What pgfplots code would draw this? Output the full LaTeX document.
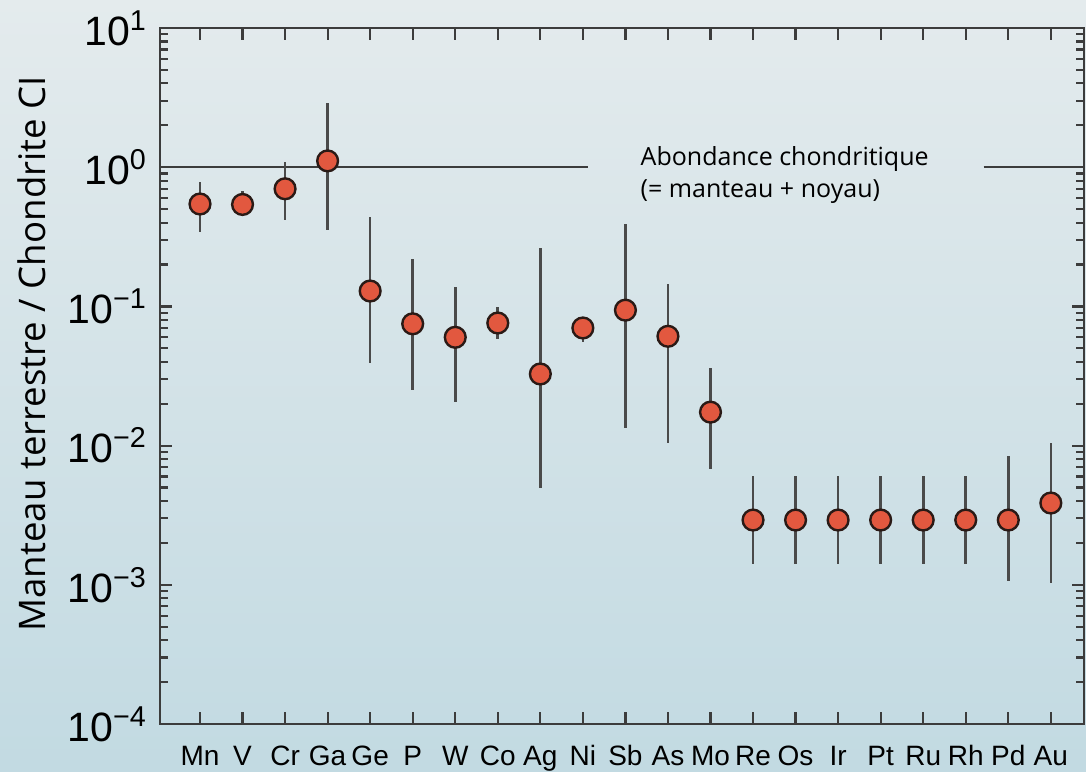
\documentclass[border=0pt]{standalone}
\usepackage{pgfplots}
\pgfplotsset{compat=1.18}
\usepackage{pgfplotstable}
\usepackage{fontspec}
\setmainfont{Liberation Sans}
\newfontfamily\labelfont{Open Sans}

\definecolor{bgtop}{HTML}{E4EBED}
\definecolor{bgmid}{HTML}{D0E2E8}
\definecolor{bgbot}{HTML}{C2DAE2}
\definecolor{axisgray}{HTML}{3C3C3C}
\definecolor{bargray}{HTML}{4A4A4A}
\definecolor{dotred}{HTML}{E2583F}
\definecolor{dotedge}{HTML}{2A1A16}

% element, value, lower and upper end of the error bar
\pgfplotstableread{
x y lo hi
0 0.544 0.34 0.78
1 0.54 0.45 0.68
2 0.70 0.42 1.09
3 1.11 0.354 2.89
4 0.129 0.039 0.44
5 0.075 0.025 0.219
6 0.060 0.0206 0.138
7 0.076 0.058 0.099
8 0.0327 0.0050 0.263
9 0.070 0.0555 0.084
10 0.094 0.0134 0.39
11 0.061 0.0104 0.145
12 0.0174 0.0068 0.036
13 0.00292 0.00141 0.00605
14 0.00292 0.00141 0.00605
15 0.00292 0.00141 0.00605
16 0.00292 0.00141 0.00605
17 0.00292 0.00141 0.00605
18 0.00292 0.00141 0.00605
19 0.00292 0.00107 0.0084
20 0.00387 0.00103 0.0104
}\abund

\begin{document}
\begin{tikzpicture}
  \shade[top color=bgtop, middle color=bgmid, bottom color=bgbot]
    (0,0) rectangle (543pt,385.5pt);
  \begin{axis}[
      at={(80pt,23.5pt)}, anchor=south west,
      scale only axis,
      width=462pt, height=348pt,
      ymode=log,
      ymin=1e-4, ymax=10,
      xmin=-0.94, xmax=20.78,
      xtick={0,...,20},
      xticklabels={Mn,V,Cr,Ga,Ge,P,W,Co,Ag,Ni,Sb,As,Mo,Re,Os,Ir,Pt,Ru,Rh,Pd,Au},
      ytick={1e-4,1e-3,1e-2,1e-1,1,10},
      yticklabels={10\textsuperscript{−4},10\textsuperscript{−3},10\textsuperscript{−2},
                   10\textsuperscript{−1},10\textsuperscript{0},10\textsuperscript{1}},
      tick align=inside,
      major tick length=6pt,
      minor tick length=4pt,
      axis line style={axisgray, line width=1.3pt},
      every tick/.style={axisgray, line width=1.1pt},
      xticklabel style={font=\fontsize{14}{14}\selectfont, anchor=base, yshift=-20.5pt},
      yticklabel style={font=\fontsize{20.5}{20}\selectfont, xshift=-3pt},
      ylabel={Manteau terrestre / Chondrite CI},
      ylabel style={font=\labelfont\fontsize{18.3}{18}\selectfont,
                    at={(axis description cs:-0.1385,0.532)}, anchor=center},
      clip=false,
    ]
    \addplot[axisgray, line width=1pt] coordinates {(-0.94,1) (9.13,1)};
    \addplot[axisgray, line width=1pt] coordinates {(18.42,1) (20.78,1)};

    \addplot[only marks, mark=*, mark size=5.2pt,
             mark options={fill=dotred, draw=dotedge, line width=1.2pt},
             error bars/.cd, y dir=both, y explicit,
             error mark=none,
             error bar style={bargray, line width=1.3pt}]
      table[x=x, y=y,
            y error plus expr=\thisrow{hi}-\thisrow{y},
            y error minus expr=\thisrow{y}-\thisrow{lo}] {\abund};

    \node[anchor=north west, inner sep=0, align=left,
          font=\labelfont\fontsize{12.5}{16}\selectfont]
      at (axis cs:10.35,1.42) {Abondance chondritique\\(= manteau + noyau)};
  \end{axis}
\end{tikzpicture}
\end{document}
